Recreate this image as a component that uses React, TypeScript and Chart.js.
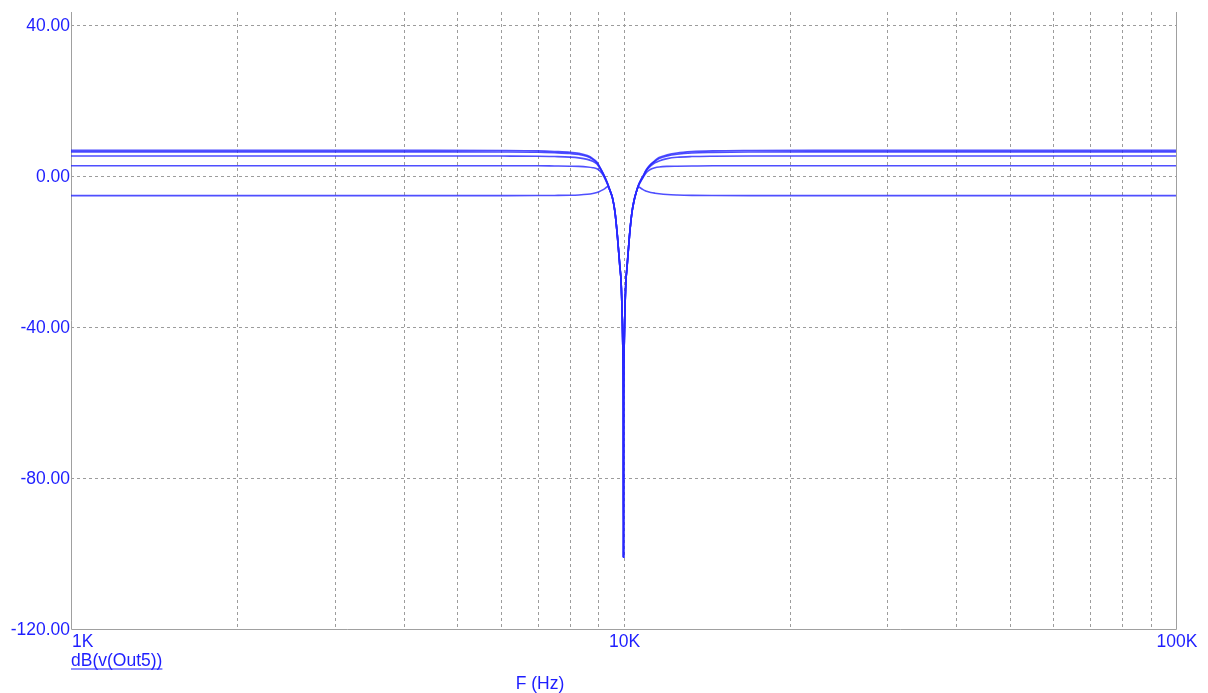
import React, { useEffect, useRef } from "react";
import { Chart, registerables } from "chart.js";

Chart.register(...registerables);

// Frequencies (Hz)
const freqHz = [
  1000, 2000, 4000, 6000, 7000, 7500, 8000, 8300, 8600, 8800, 8950, 9050, 9150, 9250, 9350, 9450, 9550, 9650, 9750, 9850, 9900, 9950, 9980, 9995, 10000,
  10005, 10020, 10050, 10100, 10150, 10250, 10350, 10450, 10550, 10650, 10750, 10850, 10950, 11050, 11200, 11400, 11600, 12000, 12500, 13300, 14500, 17000, 25000, 50000, 100000,
];

// dB(v(Out5)) traces
const traceA = [
  6.8, 6.8, 6.8, 6.75, 6.65, 6.5, 6.3, 6.0, 5.4, 4.6, 3.7, 2.5, 1.2, -0.2, -1.8, -3.7, -5.8, -9.5, -16, -24, -28, -38, -48, -62, -101,
  -62, -48, -38, -28, -24, -16, -10, -6.5, -4.2, -2.3, -1.0, 0.0, 1.2, 2.1, 3.1, 4.1, 4.9, 5.6, 6.1, 6.45, 6.65, 6.75, 6.8, 6.8, 6.8,
];
const traceB = [
  6.4, 6.4, 6.4, 6.37, 6.3, 6.15, 5.95, 5.7, 5.15, 4.4, 3.5, 2.4, 1.1, -0.3, -1.9, -3.8, -5.8, -9.5, -16, -24, -28, -38, -48, -62, -101,
  -62, -48, -38, -28, -24, -16, -10, -6.5, -4.2, -2.35, -1.1, -0.1, 1.1, 2.0, 3.0, 3.9, 4.6, 5.3, 5.75, 6.1, 6.25, 6.35, 6.4, 6.4, 6.4,
];
const traceC = [
  5.3, 5.3, 5.3, 5.28, 5.25, 5.15, 5.0, 4.8, 4.4, 3.9, 3.2, 2.2, 1.0, -0.4, -2.0, -3.8, -5.8, -9.5, -16, -24, -28, -38, -48, -62, -101,
  -62, -48, -38, -28, -24, -16, -10, -6.5, -4.2, -2.4, -1.2, -0.2, 0.9, 1.8, 2.7, 3.5, 4.0, 4.6, 4.95, 5.15, 5.25, 5.3, 5.3, 5.3, 5.3,
];
const traceD = [
  2.7, 2.7, 2.7, 2.7, 2.7, 2.65, 2.6, 2.55, 2.4, 2.2, 1.9, 1.4, 0.6, -0.6, -2.1, -3.9, -5.8, -9.5, -16, -24, -28, -38, -48, -62, -101,
  -62, -48, -38, -28, -24, -16, -10, -6.5, -4.2, -2.5, -1.4, -0.4, 0.5, 1.2, 1.8, 2.2, 2.4, 2.55, 2.6, 2.65, 2.7, 2.7, 2.7, 2.7, 2.7,
];
const traceE = [
  -5.2, -5.2, -5.2, -5.2, -5.18, -5.15, -5.1, -5.02, -4.85, -4.62, -4.35, -4.1, -3.75, -3.35, -2.85, -3.8, -5.8, -9.5, -16, -24, -28, -38, -48, -62, -101,
  -62, -48, -38, -28, -24, -16, -10, -6.5, -4.2, -2.85, -3.25, -3.6, -3.9, -4.12, -4.35, -4.55, -4.7, -4.9, -5.02, -5.12, -5.17, -5.2, -5.2, -5.2, -5.2,
];

const yTickValues = [40, 0, -40, -80, -120];
const yTickLabels = ["40.00", "0.00", "-40.00", "-80.00", "-120.00"];
const xGridValues = [
  2000, 3000, 4000, 5000, 6000, 7000, 8000, 9000, 10000,
  20000, 30000, 40000, 50000, 60000, 70000, 80000, 90000,
];
const xTickValues = [1000, 10000, 100000];
const xTickLabels = ["1K", "10K", "100K"];
const traceLabel = "dB(v(Out5))";
const xAxisTitle = "F (Hz)";

const TEXT_COLOR = "rgb(30,30,255)";
const LINE_COLOR = "rgba(40,40,255,0.82)";
const FONT = '17.5px "Liberation Sans", Arial, sans-serif';

const overlay = {
  id: "overlay",
  beforeDatasetsDraw(chart: any) {
    const { ctx, chartArea, scales } = chart;
    const { left, right, top, bottom } = chartArea;
    const x = scales.x;
    const y = scales.y;
    ctx.save();
    ctx.lineWidth = 1;
    ctx.strokeStyle = "#9c9c9c";
    ctx.setLineDash([3, 3]);
    for (const v of xGridValues) {
      const px = Math.round(x.getPixelForValue(v)) + 0.5;
      ctx.beginPath();
      ctx.moveTo(px, top);
      ctx.lineTo(px, bottom);
      ctx.stroke();
    }
    for (const v of yTickValues) {
      const py = Math.round(y.getPixelForValue(v)) + 0.5;
      if (Math.abs(py - bottom) < 2) continue;
      ctx.beginPath();
      ctx.moveTo(left, py);
      ctx.lineTo(right, py);
      ctx.stroke();
    }
    ctx.setLineDash([]);
    ctx.strokeStyle = "#a0a0a0";
    ctx.beginPath();
    ctx.moveTo(Math.round(left) + 0.5, top);
    ctx.lineTo(Math.round(left) + 0.5, Math.round(bottom) + 0.5);
    ctx.lineTo(Math.round(right) + 0.5, Math.round(bottom) + 0.5);
    ctx.lineTo(Math.round(right) + 0.5, top);
    ctx.stroke();
    ctx.restore();
  },
  afterDraw(chart: any) {
    const { ctx, chartArea, scales } = chart;
    const { left } = chartArea;
    const x = scales.x;
    const y = scales.y;
    ctx.save();
    ctx.font = FONT;
    ctx.fillStyle = TEXT_COLOR;
    ctx.textBaseline = "alphabetic";
    ctx.textAlign = "right";
    yTickValues.forEach((v, i) => {
      const py = y.getPixelForValue(v);
      ctx.fillText(yTickLabels[i], left - 1, py + 6.2);
    });
    xTickValues.forEach((v, i) => {
      const px = x.getPixelForValue(v);
      if (i === 0) {
        ctx.textAlign = "left";
        ctx.fillText(xTickLabels[i], px + 1, 647);
      } else {
        ctx.textAlign = "center";
        ctx.fillText(xTickLabels[i], px + 1, 647);
      }
    });
    ctx.textAlign = "left";
    ctx.fillText(traceLabel, left, 666);
    const w = ctx.measureText(traceLabel).width;
    ctx.fillRect(left, 668.5, w, 1);
    ctx.textAlign = "center";
    ctx.fillText(xAxisTitle, 540, 689);
    ctx.restore();
  },
};

export default function App() {
  const ref = useRef<HTMLCanvasElement | null>(null);
  useEffect(() => {
    if (!ref.current) return;
    const traces = [traceA, traceB, traceC, traceD, traceE];
    const chart = new Chart(ref.current, {
      type: "line",
      data: {
        datasets: traces.map((t, k) => ({
          label: traceLabel + " " + (k + 1),
          data: freqHz.map((f, i) => ({ x: f, y: t[i] })),
          borderColor: LINE_COLOR,
          borderWidth: 1.6,
          pointRadius: 0,
          fill: false,
          cubicInterpolationMode: "monotone" as const,
        })),
      },
      options: {
        responsive: false,
        animation: false,
        layout: { padding: { left: 71, right: 32, top: 12, bottom: 64 } },
        plugins: { legend: { display: false }, tooltip: { enabled: false } },
        scales: {
          x: { type: "logarithmic", min: 1000, max: 100000, display: false },
          y: { type: "linear", min: -120, max: 40 + 13 / 3.775, display: false },
        },
      },
      plugins: [overlay],
    });
    return () => chart.destroy();
  }, []);
  return (
    <div style={{ position: "absolute", left: 0, top: 0, width: 1208, height: 693, background: "#fff" }}>
      <canvas ref={ref} width={1208} height={693} style={{ display: "block" }} />
    </div>
  );
}
